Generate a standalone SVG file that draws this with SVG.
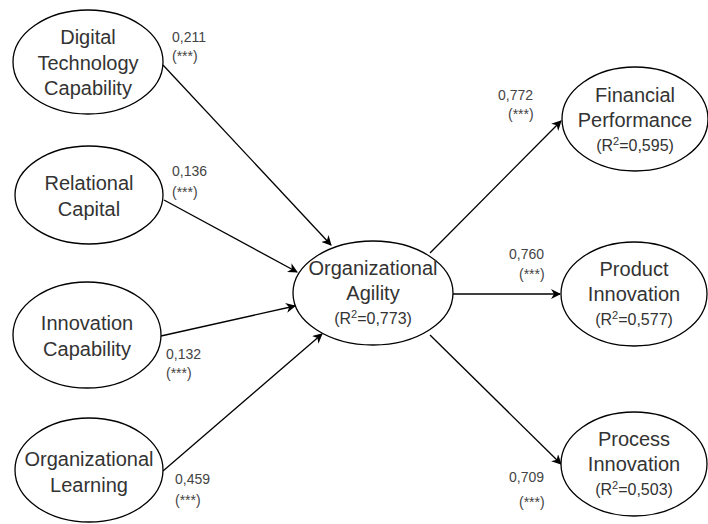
<svg xmlns="http://www.w3.org/2000/svg" width="708" height="524" viewBox="0 0 708 524">
<defs>
<marker id="arr" viewBox="0 0 10 10" refX="9" refY="5" markerWidth="10" markerHeight="10" markerUnits="userSpaceOnUse" orient="auto">
<path d="M0,0 L10,5 L0,10 L3,5 Z" fill="#000"/>
</marker>
</defs>
<style>
.node ellipse{fill:#fff;stroke:#000;stroke-width:1.3}
.t{font-family:"Liberation Sans",Arial,sans-serif;font-size:20px;fill:#333;text-anchor:middle}
.r{font-family:"Liberation Sans",Arial,sans-serif;font-size:16px;fill:#333;text-anchor:middle}
.r tspan.s{font-size:11px}
.lbl{font-family:"Liberation Sans",Arial,sans-serif;font-size:14px;fill:#444}
.edges line{stroke:#000;stroke-width:1.3;marker-end:url(#arr)}
</style>
<rect width="708" height="524" fill="#fff"/>
<g class="edges" id="connectors">
<line x1="163" y1="65" x2="331" y2="245"/>
<line x1="164" y1="200" x2="297" y2="272"/>
<line x1="161" y1="336" x2="295" y2="306"/>
<line x1="163" y1="471" x2="322" y2="334"/>
<line x1="430" y1="253" x2="561" y2="121"/>
<line x1="453" y1="294" x2="560" y2="294"/>
<line x1="430" y1="335" x2="561" y2="464"/>
</g>
<g class="node" id="dtc">
<ellipse cx="88" cy="62" rx="75" ry="52"/>
<text class="t" x="88" y="44">Digital</text>
<text class="t" x="88" y="70">Technology</text>
<text class="t" x="88" y="95">Capability</text>
</g>
<g class="node" id="rc">
<ellipse cx="89" cy="195" rx="74" ry="49"/>
<text class="t" x="89" y="190">Relational</text>
<text class="t" x="89" y="216">Capital</text>
</g>
<g class="node" id="ic">
<ellipse cx="87" cy="335" rx="74" ry="53"/>
<text class="t" x="87" y="330">Innovation</text>
<text class="t" x="87" y="356">Capability</text>
</g>
<g class="node" id="ol">
<ellipse cx="89" cy="470" rx="74" ry="52"/>
<text class="t" x="89" y="466">Organizational</text>
<text class="t" x="89" y="492">Learning</text>
</g>
<g class="node" id="oa">
<ellipse cx="373" cy="293" rx="80" ry="52"/>
<text class="t" x="373" y="275">Organizational</text>
<text class="t" x="373" y="300">Agility</text>
<text class="r" x="373" y="324">(R<tspan class="s" dy="-6">2</tspan><tspan dy="6">=0,773)</tspan></text>
</g>
<g class="node" id="fp">
<ellipse cx="635" cy="119" rx="73" ry="52"/>
<text class="t" x="635" y="102">Financial</text>
<text class="t" x="635" y="127">Performance</text>
<text class="r" x="635" y="151">(R<tspan class="s" dy="-6">2</tspan><tspan dy="6">=0,595)</tspan></text>
</g>
<g class="node" id="pi">
<ellipse cx="634" cy="294" rx="73" ry="52"/>
<text class="t" x="634" y="276">Product</text>
<text class="t" x="634" y="301">Innovation</text>
<text class="r" x="634" y="325">(R<tspan class="s" dy="-6">2</tspan><tspan dy="6">=0,577)</tspan></text>
</g>
<g class="node" id="pri">
<ellipse cx="634" cy="464" rx="73" ry="52"/>
<text class="t" x="634" y="446">Process</text>
<text class="t" x="634" y="471">Innovation</text>
<text class="r" x="634" y="495">(R<tspan class="s" dy="-6">2</tspan><tspan dy="6">=0,503)</tspan></text>
</g>
<g id="labels">
<text class="lbl" x="172" y="42">0,211</text>
<text class="lbl" x="172" y="61">(***)</text>
<text class="lbl" x="172" y="176">0,136</text>
<text class="lbl" x="172" y="197">(***)</text>
<text class="lbl" x="166" y="359">0,132</text>
<text class="lbl" x="166" y="378">(***)</text>
<text class="lbl" x="175" y="484">0,459</text>
<text class="lbl" x="175" y="505">(***)</text>
<text class="lbl" x="498" y="100">0,772</text>
<text class="lbl" x="508" y="119">(***)</text>
<text class="lbl" x="509" y="259">0,760</text>
<text class="lbl" x="519" y="279">(***)</text>
<text class="lbl" x="509" y="482">0,709</text>
<text class="lbl" x="519" y="507">(***)</text>
</g>
</svg>
